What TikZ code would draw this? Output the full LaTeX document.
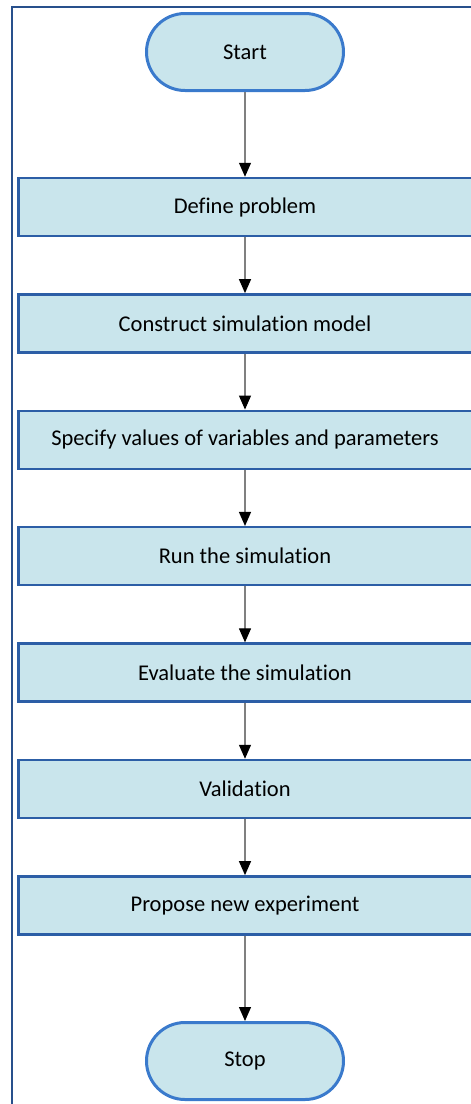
\documentclass[tikz,border=0pt]{standalone}
\usepackage{fontspec}
\setmainfont{Carlito}[Ligatures={NoCommon,NoContextual}]
\usetikzlibrary{arrows.meta}
\definecolor{boxfill}{RGB}{201,229,236}
\definecolor{boxline}{RGB}{44,94,166}
\definecolor{ovalline}{RGB}{58,122,204}
\definecolor{frameline}{RGB}{40,80,140}
\newcommand{\Gap}{116.4}

\begin{document}
\begin{tikzpicture}[x=1pt,y=-1pt,every node/.style={font=\fontsize{22.5}{25}\selectfont},
  stepbox/.style={draw=boxline,line width=2.5pt,fill=boxfill,minimum width=453.5pt,minimum height=58pt,inner sep=0pt},
  endbox/.style={draw=ovalline,line width=3pt,fill=boxfill,minimum width=197pt,minimum height=77pt,rounded corners=38.5pt,inner sep=0pt},
  flow/.style={draw=gray,line width=1.2pt,-{Triangle[length=14pt,width=12pt,color=black]}}]
\useasboundingbox (0,0) rectangle (471,1104);
\clip (0,0) rectangle (471,1104);
\draw[frameline,line width=2pt] (12,1120) -- (12,7) -- (490,7);
\node[endbox] (start) at (245,52) {Start};
\node[stepbox] (s1) at (245,207) {Define problem};
\node[stepbox] (s2) at (245,207+\Gap) {Construct simulation model};
\node[stepbox] (s3) at (245,207+2*\Gap) {Specify values of variables and parameters};
\node[stepbox] (s4) at (245,207+3*\Gap) {Run the simulation};
\node[stepbox] (s5) at (245,207+4*\Gap) {Evaluate the simulation};
\node[stepbox] (s6) at (245,207+5*\Gap) {Validation};
\node[stepbox] (s7) at (245,207+6*\Gap) {Propose new experiment};
\node[endbox] (stop) at (245,1061) {Stop};
\foreach \a/\b in {start/s1,s1/s2,s2/s3,s3/s4,s4/s5,s5/s6,s6/s7,s7/stop}
  \draw[flow] (\a) -- (\b);
\end{tikzpicture}
\end{document}
